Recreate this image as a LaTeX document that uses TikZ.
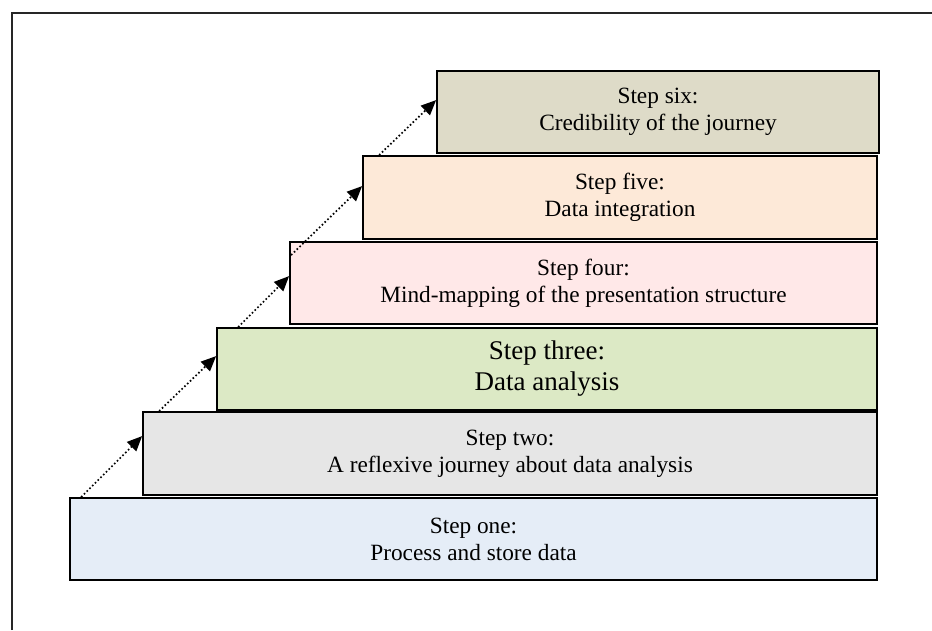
\documentclass[tikz,border=0pt]{standalone}
\usepackage{fontspec}
\setmainfont{Liberation Serif}
\usetikzlibrary{calc,arrows.meta}
\definecolor{cone}{HTML}{E5EDF7}
\definecolor{ctwo}{HTML}{E6E6E6}
\definecolor{cthree}{HTML}{DCE9C5}
\definecolor{cfour}{HTML}{FFE8E8}
\definecolor{cfive}{HTML}{FDE9D8}
\definecolor{csix}{HTML}{DEDBC8}
\tikzset{
  stepbox/.style={draw=black, line width=1.8pt, rectangle, inner sep=0pt, align=center,
    font=\fontsize{23.3}{27}\selectfont},
  uparrow/.style={line width=1.7pt, dash pattern=on 1.6pt off 2.3pt,
    -{Triangle[length=15pt,width=13pt]}},
}
\begin{document}
\begin{tikzpicture}[x=1pt,y=-1pt]
\useasboundingbox (0,0) rectangle (932,630);
\draw[line width=2pt, black!85] (11.5,630) -- (11.5,12.5) -- (932,12.5);

\node[stepbox, fill=cone, minimum width=807pt, minimum height=82pt] (b1) at (473.5,539)
  {Step one:\\Process and store data};
\node[stepbox, fill=ctwo, minimum width=734pt, minimum height=83pt] (b2) at (510,453.5)
  {Step two:\\A reflexive journey about data analysis};
\node[stepbox, fill=cthree, minimum width=660pt, minimum height=82pt, font=\fontsize{27}{31}\selectfont] (b3) at (547,369)
  {Step three:\\Data analysis};
\node[stepbox, fill=cfour, minimum width=587pt, minimum height=82pt] (b4) at (583.5,283)
  {Step four:\\Mind-mapping of the presentation structure};
\node[stepbox, fill=cfive, minimum width=514pt, minimum height=83pt] (b5) at (620,197.5)
  {Step five:\\Data integration};
\node[stepbox, fill=csix, minimum width=442pt, minimum height=82pt] (b6) at (658,112)
  {Step six:\\Credibility of the journey};

\coordinate (s1) at ($(b1.north west)+(12,0)$);
\coordinate (t1) at ($(b2.north west)+(0,25)$);
\coordinate (s2) at ($(b2.north west)+(17,0)$);
\coordinate (t2) at ($(b3.north west)+(0,29)$);
\coordinate (s3) at ($(b3.north west)+(22,0)$);
\coordinate (t3) at ($(b4.north west)+(0,35)$);
\coordinate (s4) at ($(b4.north west)+(2,14)$);
\coordinate (t4) at ($(b5.north west)+(0,31)$);
\coordinate (s5) at ($(b5.north west)+(17,0)$);
\coordinate (t5) at ($(b6.north west)+(0,30)$);

\draw[uparrow] (s1) -- (t1);
\draw[uparrow] (s2) -- (t2);
\draw[uparrow] (s3) -- (t3);
\draw[uparrow] (s4) -- (t4);
\draw[uparrow] (s5) -- (t5);
\end{tikzpicture}
\end{document}
